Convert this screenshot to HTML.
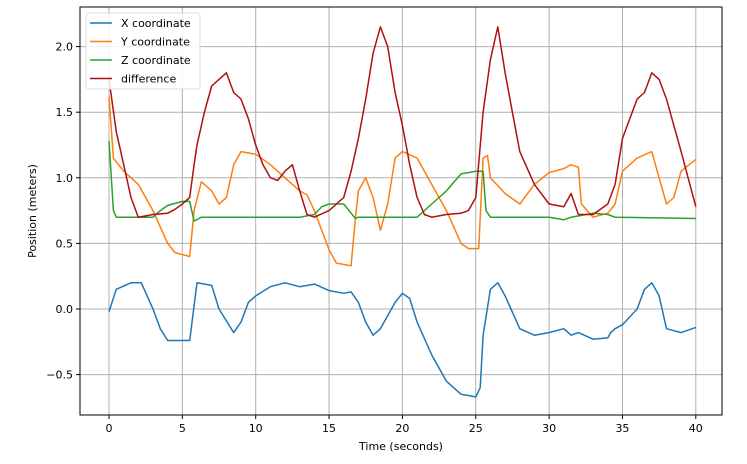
<!DOCTYPE html>
<html><head><meta charset="utf-8"><style>
html,body{margin:0;padding:0;background:#fff;}
svg{display:block;font-family:"DejaVu Sans","Liberation Sans",sans-serif;}
</style></head><body>
<svg id="chart" width="747" height="464">
<g id="grid"></g>
<g id="series"></g>
<rect x="80" y="7" width="642" height="408" fill="none" stroke="#000" stroke-width="1"/>
<g id="ticks"></g>
<text x="401" y="450" font-size="11" text-anchor="middle">Time (seconds)</text>
<text transform="translate(36,211) rotate(-90)" font-size="11" text-anchor="middle">Position (meters)</text>
<g>
<rect x="86" y="13" width="114" height="76" rx="3" fill="#fff" fill-opacity="0.85" stroke="#ddd"/>
<g id="legend"></g>
</g>
</svg>
<script>
const xTicks=[0,5,10,15,20,25,30,35,40];
const yTicks=[-0.5,0,0.5,1.0,1.5,2.0];
const yTickLabels=["\u22120.5","0.0","0.5","1.0","1.5","2.0"];
const seriesNames=["X coordinate","Y coordinate","Z coordinate","difference"];
const seriesColors=["#1f77b4","#ff7f0e","#2ca02c","#b01010"];
const tX=[0,0.5,1.5,2.2,3,3.5,4,5.5,6,7,7.5,8.5,9,9.5,10,11,12,13,14,15,16,16.5,17,17.5,18,18.5,19.5,20,20.5,21,22,23,24,25,25.3,25.5,26,26.5,27,28,29,30,31,31.5,32,33,34,34.2,34.5,35,36,36.5,37,37.5,38,39,40];
const vX=[-0.02,0.15,0.2,0.2,0,-0.15,-0.24,-0.24,0.2,0.18,0,-0.18,-0.1,0.05,0.1,0.17,0.2,0.17,0.19,0.14,0.12,0.13,0.05,-0.1,-0.2,-0.15,0.05,0.12,0.08,-0.1,-0.35,-0.55,-0.65,-0.67,-0.6,-0.2,0.15,0.2,0.1,-0.15,-0.2,-0.18,-0.15,-0.2,-0.18,-0.23,-0.22,-0.18,-0.15,-0.12,0,0.15,0.2,0.1,-0.15,-0.18,-0.14];
const tY=[0,0.3,1,2,3,4,4.5,5.5,5.8,6.3,7,7.5,8,8.5,9,10,11,12,13,13.5,14,15,15.5,16.5,16.8,17,17.5,18,18.5,19,19.5,20,21,22,23,24,24.5,25.2,25.5,25.8,26,27,28,29,30,31,31.5,32,32.2,33,34,34.5,35,36,37,37.5,38,38.5,39,40];
const vY=[1.62,1.15,1.05,0.95,0.75,0.5,0.43,0.4,0.75,0.97,0.9,0.8,0.85,1.1,1.2,1.18,1.1,1.0,0.9,0.87,0.75,0.45,0.35,0.33,0.7,0.9,1.0,0.85,0.6,0.8,1.15,1.2,1.15,0.95,0.75,0.5,0.46,0.46,1.15,1.17,1.0,0.88,0.8,0.95,1.04,1.07,1.1,1.08,0.8,0.7,0.73,0.8,1.05,1.15,1.2,1.0,0.8,0.85,1.05,1.14];
const tZ=[0,0.3,0.5,3,3.5,4,5,5.5,5.8,6.3,13,14,14.5,15,16,16.5,16.8,17,21,22,23,24,25,25.5,25.7,26,30,31,31.5,33,34,34.5,40];
const vZ=[1.28,0.75,0.7,0.7,0.75,0.79,0.82,0.82,0.67,0.7,0.7,0.72,0.78,0.8,0.8,0.73,0.69,0.7,0.7,0.8,0.9,1.03,1.05,1.05,0.75,0.7,0.7,0.68,0.7,0.73,0.72,0.7,0.69];
const tD=[0,0.5,1,1.5,2,3,4,4.5,5,5.5,5.8,6,6.5,7,7.5,8,8.5,9,9.5,10,10.5,11,11.5,12,12.5,13,13.5,14,15,16,16.5,17,17.5,18,18.5,19,19.5,20,20.5,21,21.5,22,23,24,24.5,25,25.5,26,26.5,27,27.5,28,29,30,31,31.5,32,33,34,34.5,35,36,36.5,37,37.5,38,39,40];
const vD=[1.75,1.35,1.1,0.85,0.7,0.72,0.73,0.76,0.8,0.85,1.1,1.25,1.5,1.7,1.75,1.8,1.65,1.6,1.45,1.25,1.1,1.0,0.98,1.05,1.1,0.9,0.72,0.7,0.75,0.85,1.05,1.3,1.6,1.95,2.15,2.0,1.65,1.4,1.1,0.85,0.72,0.7,0.72,0.73,0.75,0.85,1.5,1.9,2.15,1.8,1.5,1.2,0.95,0.8,0.78,0.88,0.72,0.72,0.8,0.95,1.3,1.6,1.65,1.8,1.75,1.6,1.2,0.78];

const NS="http://www.w3.org/2000/svg";
function sx(t){return 109+t*14.67;}
function sy(v){return 309-v*131.2;}
function mk(tag,attrs,parent){const e=document.createElementNS(NS,tag);for(const k in attrs)e.setAttribute(k,attrs[k]);parent.appendChild(e);return e;}
const grid=document.getElementById('grid'),ticks=document.getElementById('ticks');
xTicks.forEach(t=>{
  const g=mk('line',{x1:sx(t),x2:sx(t),y1:7,y2:415,stroke:'#b0b0b0','stroke-width':1},grid);
  
  
  const tk=mk('line',{x1:sx(t),x2:sx(t),y1:415,y2:419,stroke:'#000'},ticks);
  
  
  const l=mk('text',{x:sx(t),y:432,'font-size':11,'text-anchor':'middle'},ticks);
  l.textContent=t;
  
  
});
yTicks.forEach((v,i)=>{
  const g=mk('line',{x1:80,x2:722,y1:sy(v),y2:sy(v),stroke:'#b0b0b0','stroke-width':1},grid);
  
  
  const tk=mk('line',{x1:76,x2:80,y1:sy(v),y2:sy(v),stroke:'#000'},ticks);
  
  
  const l=mk('text',{x:73,y:sy(v)+4,'font-size':11,'text-anchor':'end'},ticks);
  l.textContent=yTickLabels[i];
  
  
});
const all=[[tX,vX],[tY,vY],[tZ,vZ],[tD,vD]];
const ser=document.getElementById('series');
all.forEach((s,i)=>{
  const d=s[0].map((t,j)=>(j?'L':'M')+sx(t).toFixed(1)+','+sy(s[1][j]).toFixed(1)).join('');
  const p=mk('path',{d:d,fill:'none',stroke:seriesColors[i],'stroke-width':1.5,'stroke-linejoin':'round'},ser);
  
  
});
const leg=document.getElementById('legend');
seriesNames.forEach((n,i)=>{
  const y=23+i*18.5;
  const l=mk('line',{x1:90,x2:112,y1:y,y2:y,stroke:seriesColors[i],'stroke-width':1.5},leg);
  
  
  const t=mk('text',{x:121,y:y+4,'font-size':11},leg);
  t.textContent=n;
  
  
});
</script>
</body></html>
